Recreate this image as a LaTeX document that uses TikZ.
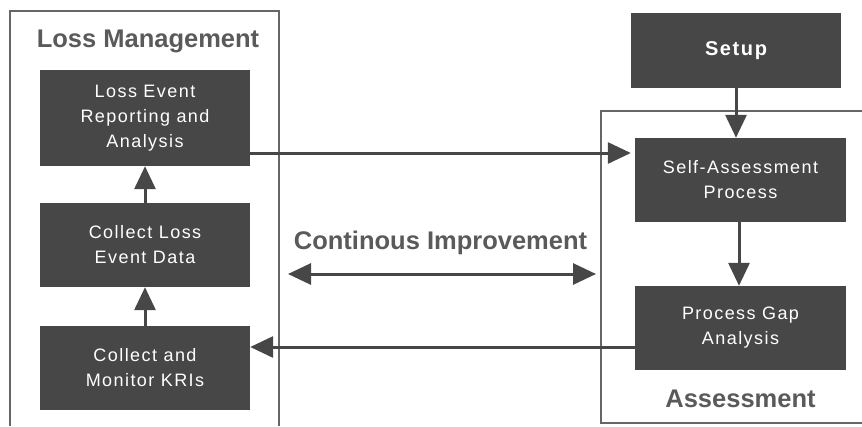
\documentclass[tikz,border=0pt]{standalone}
\usepackage{fontspec}
\setmainfont{Liberation Sans}
\newfontfamily\boxfont[LetterSpace=8]{Liberation Sans}
\newfontfamily\titlefont{Liberation Sans}
\usetikzlibrary{arrows.meta,calc}
\definecolor{boxgray}{HTML}{474747}
\definecolor{titlegray}{HTML}{5A5A5A}
\definecolor{linegray}{HTML}{666666}
\begin{document}
\begin{tikzpicture}[x=1pt,y=-1pt,
  procbox/.style={fill=boxgray,draw=none,text=white,align=center,inner sep=0pt,
    minimum width=210pt,font=\boxfont\fontsize{18}{25}\selectfont},
  titletext/.style={text=titlegray,inner sep=0pt,font=\titlefont\bfseries\fontsize{25.5}{30}\selectfont},
  container/.style={draw=linegray,line width=1.5pt},
  arr/.style={draw=boxgray,line width=3pt,-{Triangle[length=23pt,width=21pt]}},
  dblarr/.style={draw=boxgray,line width=3pt,{Triangle[length=23pt,width=21pt]}-{Triangle[length=23pt,width=21pt]}}]
\useasboundingbox (0,0) rectangle (862,426);
% containers
\draw[container] (10,426) -- (10,11) -- (279,11) -- (279,426);
\draw[container] (862,111) -- (601,111) -- (601,423) -- (862,423);
% titles
\node[titletext] (lmtitle) at (148,41) {Loss Management};
\node[titletext] (astitle) at (740.5,399) {Assessment};
\node[titletext] (citext) at (440.5,242.5) {Continous Improvement};
% left boxes
\node[procbox,minimum height=96pt] (box1) at (145,118) {Loss Event\\Reporting and\\Analysis};
\node[procbox,minimum height=84pt] (box2) at (145,245) {Collect Loss\\Event Data};
\node[procbox,minimum height=84pt] (box3) at (145,368) {Collect and\\Monitor KRIs};
% right boxes
\node[procbox,minimum height=75pt,font=\boxfont\bfseries\fontsize{20}{25}\selectfont] (setup) at (736,50.5) {Setup};
\node[procbox,minimum width=211pt,minimum height=84pt] (sa) at (740.5,180) {Self-Assessment\\Process};
\node[procbox,minimum width=211pt,minimum height=84pt] (pg) at (740.5,328) {Process Gap\\Analysis};
% connectors
\draw[arr] (box2.north) -- (box1.south);
\draw[arr] (box3.north) -- (box2.south);
\draw[arr] (setup.south) -- (setup.south |- sa.north);
\draw[arr] (sa.south -| 739,0) -- (pg.north -| 739,0);
\draw[arr,shorten >=4pt] ([yshift=-35pt]box1.east) -- ([yshift=-35pt]box1.east -| sa.west);
\draw[arr] ([yshift=-19pt]pg.west) -- ([yshift=-19pt]pg.west -| box3.east);
\coordinate (ciL) at (288,274);
\coordinate (ciR) at (596,274);
\draw[dblarr] (ciL) -- (ciR);
\end{tikzpicture}
\end{document}
